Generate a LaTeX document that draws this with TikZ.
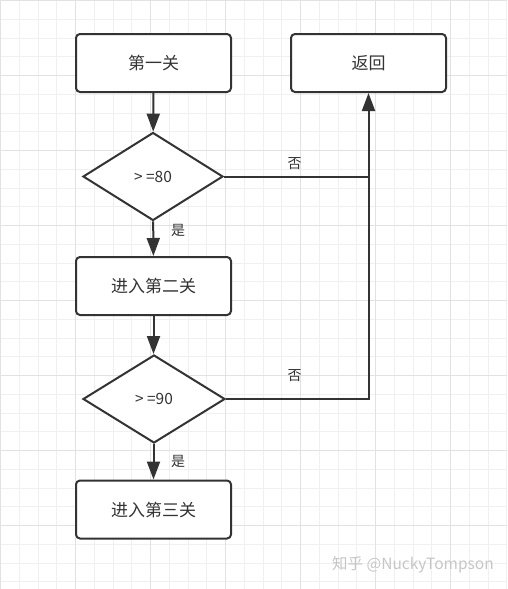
\documentclass[tikz,border=0pt]{standalone}
\usepackage{fontspec}
\setmainfont{Noto Sans CJK SC}
\usetikzlibrary{
  arrows.meta,
  positioning,
  shapes.geometric,
}
\definecolor{ink}{HTML}{333333}
\definecolor{gridminor}{HTML}{F0F0F0}
\definecolor{gridmajor}{HTML}{E2E2E2}
\tikzset{
  stepbox/.style = {rectangle, rounded corners=4pt, draw=ink, fill=white,
      line width=2pt, minimum width=155pt, minimum height=58pt,
      inner sep=0pt, text=ink, font=\fontsize{17}{20}\selectfont},
  test/.style = {diamond, draw=ink, fill=white, line width=2pt,
      minimum width=#1, minimum height=88pt, inner sep=0pt,
      text=ink, font=\fontsize{15.5}{18}\selectfont},
  test/.default = 140pt, % full width of the diamond
  flow/.style = {draw=ink, line width=2pt,
      -{Triangle[length=18pt, width=13pt]}},
  lbl/.style = {text=ink, font=\fontsize{14}{16}\selectfont, inner sep=0pt},
}

\begin{document}
\begin{tikzpicture}[x=1pt, y=-1pt]
  \useasboundingbox (0,0) rectangle (507,589);
  \fill[white] (0,0) rectangle (507,589);

  % background grid
  \foreach \i in {0,...,27}
    \draw[gridminor, line width=1pt] ({0.5+18.75*\i},0) -- ++(0,589);
  \foreach \j in {0,...,31}
    \draw[gridminor, line width=1pt] (0,{0.5+18.75*\j}) -- ++(507,0);
  \foreach \i in {0,...,6}
    \draw[gridmajor, line width=1pt] ({0.5+75*\i},0) -- ++(0,589);
  \foreach \j in {0,...,7}
    \draw[gridmajor, line width=1pt] (0,{0.5+75*\j}) -- ++(507,0);

  \node[stepbox] (first)  at (153.5,63)    {第一关};
  \node[stepbox] (back)   at (368.5,63)    {返回};
  \node[test]    (t80)    at (153,176.5)   {> =80};
  \node[stepbox] (second) at (153.5,286)   {进入第二关};
  \node[test=142pt] (t90) at (154,399)     {> =90};
  \node[stepbox] (third)  at (153.5,509.5) {进入第三关};

  \draw[flow] (first) -- (t80);
  \draw[flow] (t80) -- (second);
  \draw[flow] (second.south) -- (second.south |- t90.north);
  \draw[flow] (t90.south -| third.north) -- (third);

  \draw[draw=ink, line width=2pt] (t80.east) -- (t80.east -| back.south);
  \draw[flow] (t90.east) -| (back.south);

  \node[lbl] (yes1) at (178,230)   {是};
  \node[lbl] (yes2) at (178,461.5) {是};
  \node[lbl] (no1)  at (294.5,163.5) {否};
  \node[lbl] (no2)  at (294.5,376) {否};

  \node[text=gray!45, font=\fontsize{15.5}{18}\selectfont, inner sep=0pt]
    (mark) at (413,565) {知乎 @NuckyTompson};
\end{tikzpicture}
\end{document}
